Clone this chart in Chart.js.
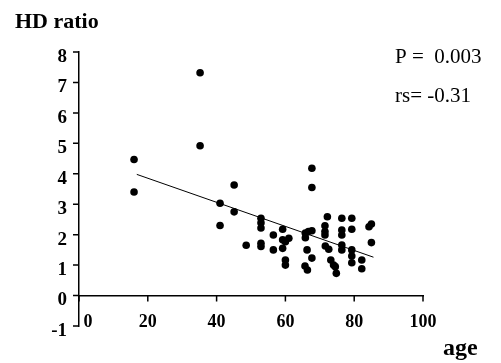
<!DOCTYPE html>
<html>
<head>
<meta charset="utf-8">
<script src="https://cdn.jsdelivr.net/npm/chart.js@4.4.1/dist/chart.umd.min.js"></script>
<style>
	body { margin: 0; background: #fff; }
	canvas { display: block; }
</style>
</head>
<body>
<canvas id="grafico" width="501" height="363"></canvas>
<script>
"use strict";

// eta' e rapporto HD
const eta = [16, 16, 35.2, 35.2, 41, 41, 45.1, 45.1, 48.6,
	52.9, 52.9, 52.9, 52.9, 52.9, 56.5, 56.5, 59.2, 59.2, 60, 61, 59.2, 60, 60,
	65.8, 66.7, 67.7, 65.8, 66.3, 67.7, 65.7, 66.4, 67.7, 67.7,
	72.2, 71.5, 71.5, 71.5, 71.6, 72.6, 73.2, 74, 74.8, 74.5,
	76.4, 79.3, 76.4, 76.4, 79.3, 76.4, 76.4, 79.3, 79.3, 79.3,
	82.2, 82.2, 84.3, 85, 85];
const rapportoHD = [4.47, 3.4, 7.32, 4.92, 3.03, 2.3, 3.63, 2.75, 1.65,
	2.54, 2.39, 2.22, 1.72, 1.61, 1.99, 1.5, 2.18, 1.83, 1.77, 1.88, 1.55, 1.17, 1.0,
	2.05, 2.1, 2.13, 1.9, 1.5, 1.23, 0.97, 0.84, 4.18, 3.55,
	2.59, 2.29, 2.1, 1.99, 1.63, 1.52, 1.17, 1.0, 0.73, 0.95,
	2.54, 2.54, 2.15, 1.99, 2.18, 1.66, 1.5, 1.5, 1.3, 1.08,
	1.17, 0.88, 2.26, 2.35, 1.74];

// retta di regressione
const trendX = [16.8, 85.6];
const trendY = [3.98, 1.26];

const xTicks = [0, 20, 40, 60, 80, 100];
const yTicks = [-1, 0, 1, 2, 3, 4, 5, 6, 7, 8];

const testi = {
	titolo: "HD ratio",
	p: "P =  0.003",
	rs: "rs= -0.31",
	asse: "age"
};

const punti = eta.map((x, i) => ({ x: x, y: rapportoHD[i] }));
const retta = trendX.map((x, i) => ({ x: x, y: trendY[i] }));

const serif = "'Liberation Serif', 'Times New Roman', serif";

// tacche degli assi, prese dalle scale del grafico
const tacche = {
	id: "tacche",
	afterDraw(chart) {
		const ctx = chart.ctx;
		const sx = chart.scales.x;
		const sy = chart.scales.y;
		const y0 = sy.getPixelForValue(0);
		const left = chart.chartArea.left;
		ctx.save();
		ctx.strokeStyle = "#000";
		ctx.lineWidth = 1.5;
		ctx.beginPath();
		sx.ticks.forEach(t => {
			const px = sx.getPixelForValue(t.value);
			ctx.moveTo(px, y0);
			ctx.lineTo(px, y0 + 6);
		});
		sy.ticks.forEach(t => {
			const py = sy.getPixelForValue(t.value);
			ctx.moveTo(left - 6, py);
			ctx.lineTo(left, py);
		});
		ctx.stroke();
		ctx.restore();
	}
};

const scritte = {
	id: "scritte",
	afterDraw(chart) {
		const ctx = chart.ctx;
		ctx.save();
		ctx.fillStyle = "#000";
		ctx.textBaseline = "alphabetic";
		ctx.textAlign = "left";
		ctx.font = "bold 22px " + serif;
		ctx.fillText(testi.titolo, 15, 28);
		ctx.font = "21px " + serif;
		ctx.fillText(testi.p, 395, 63);
		ctx.fillText(testi.rs, 395, 102);
		ctx.font = "bold 24px " + serif;
		ctx.fillText(testi.asse, 443, 355);
		ctx.restore();
	}
};

let chart = new Chart(document.getElementById("grafico"), {
	type: "scatter",
	data: {
		datasets: [{
			data: punti,
			backgroundColor: "#000",
			borderWidth: 0,
			pointRadius: 3.8,
			pointHoverRadius: 3.8
		}, {
			type: "line",
			data: retta,
			borderColor: "#000",
			borderWidth: 1,
			pointRadius: 0,
			fill: false
		}]
	},
	options: {
		responsive: false,
		animation: false,
		layout: { padding: { left: 39, right: 78, top: 52, bottom: 37 } },
		plugins: { legend: { display: false }, tooltip: { enabled: false } },
		scales: {
			x: {
				type: "linear",
				position: { y: 0 },
				min: xTicks[0],
				max: xTicks[xTicks.length - 1],
				grid: { drawOnChartArea: false, drawTicks: false, color: "#000" },
				border: { color: "#000", width: 1.5 },
				ticks: {
					stepSize: xTicks[1] - xTicks[0],
					color: "#000", padding: 16,
					font: { family: serif, size: 18, weight: "bold" },
					// lo zero e' spostato a destra dell'asse
					callback: v => v === 0 ? "\u2002\u20020" : String(v)
				}
			},
			y: {
				type: "linear",
				min: yTicks[0],
				max: yTicks[yTicks.length - 1],
				afterFit: s => { s.width = 40; },
				grid: { drawOnChartArea: false, drawTicks: false, color: "#000" },
				border: { color: "#000", width: 1.5 },
				ticks: {
					stepSize: yTicks[1] - yTicks[0],
					color: "#000", padding: 12, labelOffset: 5,
					font: { family: serif, size: 19, weight: "bold" }
				}
			}
		}
	},
	plugins: [tacche, scritte]
});
</script>
</body>
</html>
